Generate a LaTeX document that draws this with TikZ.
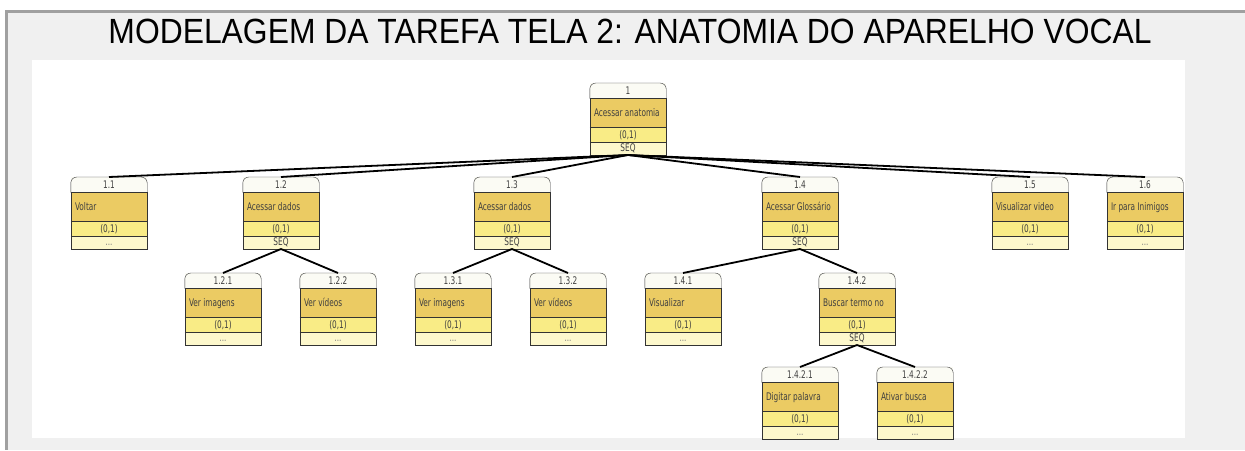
\documentclass[tikz,border=0pt]{standalone}
\usepackage{fontspec}
\setmainfont{Liberation Sans}
\newfontfamily\boxfont[FakeStretch=0.7]{DejaVu Sans}
\newfontfamily\titlefont[FakeStretch=0.91]{Liberation Sans}
\usetikzlibrary{shapes.multipart}
\definecolor{framegray}{HTML}{A0A0A0}
\definecolor{pagegray}{HTML}{F0F0F0}
\definecolor{headfill}{HTML}{FBFBF4}
\definecolor{namefill}{HTML}{EBCB63}
\definecolor{optfill}{HTML}{F9EC86}
\definecolor{footfill}{HTML}{FDF8CC}
\newcommand{\tarefa}[3]{\rule[-4pt]{0pt}{15pt}\makebox[68pt]{#1}%
  \nodepart{two}\rule[-10.5pt]{0pt}{28pt}\makebox[68pt][l]{#2}%
  \nodepart{three}\rule[-4pt]{0pt}{15pt}\makebox[68pt]{(0,1)}%
  \nodepart{four}\rule[-3pt]{0pt}{12pt}\makebox[68pt]{#3}}
\newcommand{\fim}{\textcolor{gray}{...}}

\begin{document}
\begin{tikzpicture}[x=1pt,y=-1pt]
    \tikzstyle{tarefabox}=[rectangle split, rectangle split parts=4, anchor=north,
      inner xsep=4pt, inner ysep=0pt, font=\boxfont\fontsize{10.5}{11}\selectfont, text=black!75,
      rectangle split part fill={headfill,namefill,optfill,footfill}]
    \tikzstyle{ligacao}=[line width=1.8pt, black]
    \useasboundingbox (0,0) rectangle (1245,450);
    \fill[pagegray] (8,13) rectangle (1245,450);
    \fill[framegray] (5,10) rectangle (1245,13);
    \fill[framegray] (5,10) rectangle (8,450);
    \fill[white] (32,60) rectangle (1185,438);
    \node(titulo)[anchor=base, font=\titlefont\fontsize{35}{35}\selectfont] at (630,43)
      {MODELAGEM DA TAREFA TELA 2: ANATOMIA DO APARELHO VOCAL};
    \node(t1)[tarefabox] at (628,83) {\tarefa{1}{Acessar anatomia}{SEQ}};
    \node(t11)[tarefabox] at (109,177) {\tarefa{1.1}{Voltar}{\fim}};
    \node(t12)[tarefabox] at (281,177) {\tarefa{1.2}{Acessar dados}{SEQ}};
    \node(t13)[tarefabox] at (512,177) {\tarefa{1.3}{Acessar dados}{SEQ}};
    \node(t14)[tarefabox] at (800,177) {\tarefa{1.4}{Acessar Glossário}{SEQ}};
    \node(t15)[tarefabox] at (1030,177) {\tarefa{1.5}{Visualizar video}{\fim}};
    \node(t16)[tarefabox] at (1145,177) {\tarefa{1.6}{Ir para Inimigos}{\fim}};
    \node(t121)[tarefabox] at (223,273) {\tarefa{1.2.1}{Ver imagens}{\fim}};
    \node(t122)[tarefabox] at (338,273) {\tarefa{1.2.2}{Ver vídeos}{\fim}};
    \node(t131)[tarefabox] at (453,273) {\tarefa{1.3.1}{Ver imagens}{\fim}};
    \node(t132)[tarefabox] at (568,273) {\tarefa{1.3.2}{Ver vídeos}{\fim}};
    \node(t141)[tarefabox] at (683,273) {\tarefa{1.4.1}{Visualizar}{\fim}};
    \node(t142)[tarefabox] at (857,273) {\tarefa{1.4.2}{Buscar termo no}{SEQ}};
    \node(t1421)[tarefabox] at (800,367) {\tarefa{1.4.2.1}{Digitar palavra}{\fim}};
    \node(t1422)[tarefabox] at (915,367) {\tarefa{1.4.2.2}{Ativar busca}{\fim}};
    \foreach \n in {t1,t11,t12,t13,t14,t15,t16,t121,t122,t131,t132,t141,t142,t1421,t1422}{
      \draw[black!80, rounded corners=6pt] (\n.one split west) |- (\n.north) -| (\n.one split east);
      \draw[black!80] (\n.one split west) rectangle (\n.south east);
      \draw[black!80] (\n.two split west) -- (\n.two split east);
      \draw[black!80] (\n.three split west) -- (\n.three split east);
    }
    \foreach \c in {t11,t12,t13,t14,t15,t16} \draw[ligacao] (t1.south) -- (\c.north);
    \foreach \c in {t121,t122} \draw[ligacao] (t12.south) -- (\c.north);
    \foreach \c in {t131,t132} \draw[ligacao] (t13.south) -- (\c.north);
    \foreach \c in {t141,t142} \draw[ligacao] (t14.south) -- (\c.north);
    \foreach \c in {t1421,t1422} \draw[ligacao] (t142.south) -- (\c.north);
\end{tikzpicture}
\end{document}
